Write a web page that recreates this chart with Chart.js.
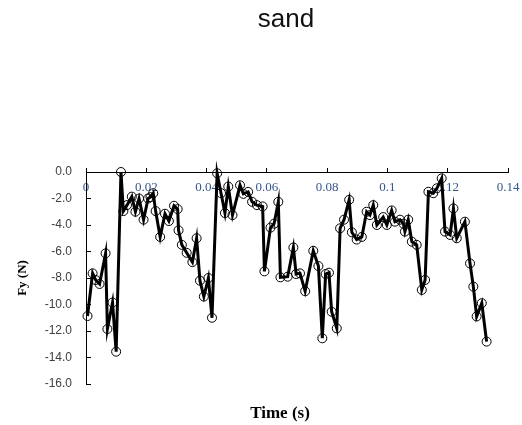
<!DOCTYPE html>
<html><head><meta charset="utf-8">
<script src="https://cdn.jsdelivr.net/npm/chart.js@4"></script>
<style>html,body{margin:0;padding:0;background:#fff}</style>
</head><body>
<canvas id="c" width="522" height="425"></canvas>
<script>
const chartTitle = 'sand';
const xTitle = 'Time (s)';
const yTitle = 'Fy (N)';
const xTickValues = [0, 0.02, 0.04, 0.06, 0.08, 0.1, 0.12, 0.14];
const xTickLabels = ['0', '0.02', '0.04', '0.06', '0.08', '0.1', '0.12', '0.14'];
const yTickValues = [0, -2, -4, -6, -8, -10, -12, -14, -16];
const yTickLabels = ['0.0', '-2.0', '-4.0', '-6.0', '-8.0', '-10.0', '-12.0', '-14.0', '-16.0'];

const times = [
  0.0005, 0.0022, 0.0032, 0.0045, 0.0065, 0.0071, 0.0088, 0.0100, 0.0116, 0.0124,
  0.0136, 0.0152, 0.0164, 0.0176, 0.0191, 0.0206, 0.0214, 0.0223, 0.0231, 0.0246,
  0.0262, 0.0275, 0.0292, 0.0304, 0.0307, 0.0318, 0.0334, 0.0353, 0.0367, 0.0378,
  0.0391, 0.0406, 0.0418, 0.0435, 0.0448, 0.0461, 0.0472, 0.0486, 0.0511, 0.0522,
  0.0538, 0.0551, 0.0567, 0.0586, 0.0592, 0.0612, 0.0624, 0.0638, 0.0645, 0.0669,
  0.0688, 0.0697, 0.0710, 0.0727, 0.0754, 0.0771, 0.0784, 0.0795, 0.0806, 0.0815,
  0.0832, 0.0843, 0.0856, 0.0873, 0.0882, 0.0898, 0.0915, 0.0931, 0.0942, 0.0953,
  0.0965, 0.0986, 0.0998, 0.1014, 0.1025, 0.1042, 0.1053, 0.1058, 0.1069, 0.1081,
  0.1097, 0.1114, 0.1125, 0.1136, 0.1152, 0.1164, 0.1180, 0.1191, 0.1208, 0.1219,
  0.1230, 0.1257, 0.1274, 0.1285, 0.1296, 0.1313, 0.1329
];
const forces = [
  -10.87, -7.65, -8.15, -8.45, -6.14, -11.85, -9.85, -13.56, 0.0, -2.95,
  -2.5, -1.86, -3.0, -2.0, -3.6, -2.0, -1.9, -1.6, -2.95, -4.9,
  -3.15, -3.7, -2.55, -2.8, -4.4, -5.5, -6.1, -6.8, -5.0, -8.2,
  -9.4, -8.0, -11.0, -0.1, -1.6, -3.1, -1.1, -3.25, -1.0, -1.65,
  -1.5, -2.25, -2.5, -2.6, -7.5, -4.2, -3.9, -2.25, -7.95, -7.9,
  -5.7, -7.7, -7.65, -9.0, -5.95, -7.1, -12.55, -7.7, -7.6, -10.55,
  -11.8, -4.25, -3.6, -2.1, -4.55, -5.1, -4.9, -3.0, -3.25, -2.5,
  -4.0, -3.4, -4.0, -2.9, -3.75, -3.6, -3.9, -4.5, -3.6, -5.26,
  -5.5, -8.9, -8.15, -1.49, -1.6, -1.23, -0.48, -4.5, -4.75, -2.75,
  -5.0, -3.75, -6.9, -8.65, -10.9, -9.9, -12.8
];

const points = times.map((t, i) => ({x: t, y: forces[i]}));

const textPlugin = {
  id: 'texts',
  afterDraw(chart) {
    const ctx = chart.ctx;
    ctx.save();
    ctx.fillStyle = '#111';
    ctx.textAlign = 'center';
    ctx.textBaseline = 'alphabetic';
    ctx.font = '26px "Liberation Sans", Arial, sans-serif';
    ctx.fillText(chartTitle, 286, 27);
    ctx.fillStyle = '#000';
    ctx.font = 'bold 17px "Liberation Serif", "Times New Roman", serif';
    ctx.fillText(xTitle, 280, 418);
    ctx.restore();
  }
};

new Chart(document.getElementById('c'), {
  type: 'scatter',
  data: {
    datasets: [{
      data: points,
      showLine: true,
      borderColor: '#000',
      borderWidth: 3,
      tension: 0,
      pointRadius: 4.5,
      pointHoverRadius: 4.5,
      pointBorderColor: '#000',
      pointBorderWidth: 1,
      pointBackgroundColor: 'rgba(255,255,255,0)',
      clip: false
    }]
  },
  options: {
    responsive: false,
    animation: false,
    layout: {padding: {left: 0, right: 14, top: 0, bottom: 0}},
    plugins: {legend: {display: false}, tooltip: {enabled: false}, title: {display: false}},
    scales: {
      x: {
        type: 'linear',
        position: 'top',
        min: 0, max: 0.14,
        afterBuildTicks: s => { s.ticks = xTickValues.map(v => ({value: v})); },
        afterFit: s => { s.height = 172; s.paddingLeft = 0; s.paddingRight = 0; },
        ticks: {
          mirror: true,
          padding: 8,
          maxRotation: 0,
          autoSkip: false,
          color: '#34558a',
          font: {family: '"Liberation Serif", "Times New Roman", serif', size: 13},
          callback: (v, i) => xTickLabels[i]
        },
        grid: {drawOnChartArea: false, drawTicks: true, tickLength: 4, color: '#000', lineWidth: 1},
        border: {display: true, color: '#000', width: 1}
      },
      x2: {
        type: 'linear',
        axis: 'x',
        position: 'bottom',
        min: 0, max: 0.14,
        afterFit: s => { s.height = 41; s.paddingLeft = 0; s.paddingRight = 0; },
        ticks: {display: false},
        grid: {display: false},
        border: {display: false}
      },
      y: {
        type: 'linear',
        position: 'left',
        min: -16, max: 0,
        afterBuildTicks: s => { s.ticks = yTickValues.map(v => ({value: v})); },
        afterFit: s => { s.width = 86; s.paddingTop = 0; s.paddingBottom = 0; },
        ticks: {
          padding: 19,
          autoSkip: false,
          color: '#404040',
          font: {family: '"Liberation Sans", Arial, sans-serif', size: 12},
          callback: (v, i) => yTickLabels[i]
        },
        grid: {drawOnChartArea: false, drawTicks: true, tickLength: -5, color: '#000', lineWidth: 1},
        border: {display: true, color: '#000', width: 1},
        title: {
          display: true,
          text: yTitle,
          color: '#000',
          padding: {top: 15, bottom: 0},
          font: {family: '"Liberation Serif", "Times New Roman", serif', size: 13, weight: 'bold'}
        }
      }
    }
  },
  plugins: [textPlugin]
});
</script>
</body></html>
